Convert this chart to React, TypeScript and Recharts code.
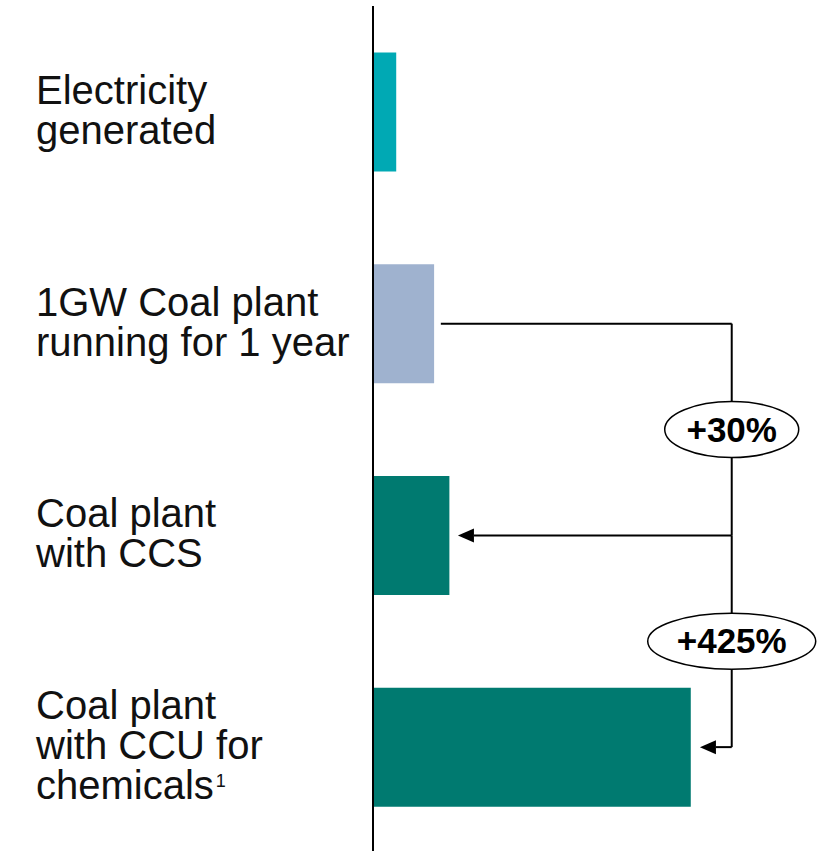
import React from "react";
import { BarChart, Bar, XAxis, YAxis, Cell, ReferenceLine } from "recharts";

const categories = ["electricity", "coal", "ccs", "ccu"];
const labelLines = [
  ["Electricity", "generated"],
  ["1GW Coal plant", "running for 1 year"],
  ["Coal plant", "with CCS"],
  ["Coal plant", "with CCU for", "chemicals"],
];
const labelSuperscripts = ["", "", "", "1"];
const values = [0.38, 1.0, 1.25, 5.2];
const barColors = ["#00A9B4", "#9FB2CF", "#007A70", "#007A70"];
const changeLabels = ["+30%", "+425%"];

const data = categories.map((c, i) => ({ name: c, value: values[i] }));

const FONT = "'Liberation Sans', Arial, sans-serif";

const CategoryTick = (props: any) => {
  const { y, payload } = props;
  const idx = categories.indexOf(payload.value);
  const lines = labelLines[idx] || [];
  const lh = 40;
  const first = y - ((lines.length - 1) * lh) / 2 + 12;
  return (
    <g>
      <text x={36} y={first} textAnchor="start" fontFamily={FONT} fontSize={40} fill="#111">
        {lines.map((l, i) => (
          <tspan key={i} x={36} y={first + i * lh}>
            {l}
            {i === lines.length - 1 && labelSuperscripts[idx] ? (
              <tspan fontSize={18} dx={2} dy={-12}>{labelSuperscripts[idx]}</tspan>
            ) : null}
          </tspan>
        ))}
      </text>
    </g>
  );
};

const plainLine = (p: any) => (
  <line x1={p.x1} y1={p.y1} x2={p.x2} y2={p.y2} stroke="#000" strokeWidth={2} />
);

const arrowLine = (p: any) => {
  const len = 16;
  const hw = 7;
  const dir = p.x2 < p.x1 ? -1 : 1;
  const bx = p.x2 - dir * len;
  return (
    <g>
      <line x1={p.x1} y1={p.y1} x2={bx} y2={p.y2} stroke="#000" strokeWidth={2} />
      <polygon points={`${p.x2},${p.y2} ${bx},${p.y2 - hw} ${bx},${p.y2 + hw}`} fill="#000" />
    </g>
  );
};

const ellipseLine = (label: string, rx: number) => (p: any) => {
  const cx = (p.x1 + p.x2) / 2;
  const cy = (p.y1 + p.y2) / 2;
  return (
    <g>
      <line x1={p.x1} y1={p.y1} x2={p.x2} y2={p.y2} stroke="#000" strokeWidth={2} />
      <ellipse cx={cx} cy={cy} rx={rx} ry={28} fill="#fff" stroke="#000" strokeWidth={1.5} />
      <text x={cx} y={cy + 12} textAnchor="middle" fontFamily={FONT} fontWeight="bold" fontSize={35} fill="#000">
        {label}
      </text>
    </g>
  );
};

const xJoin = 5.87;

export default function App() {
  return (
    <div style={{ position: "absolute", left: 0, top: 0, width: 821, height: 851, background: "#fff" }}>
      <BarChart
        width={821}
        height={851}
        data={data}
        layout="vertical"
        margin={{ top: 6, right: 8, bottom: -2, left: 0 }}
        barCategoryGap="22%"
      >
        <XAxis type="number" domain={[0, 7.2]} hide />
        <YAxis
          type="category"
          dataKey="name"
          width={373}
          axisLine={{ stroke: "#000", strokeWidth: 2 }}
          tickLine={false}
          tick={<CategoryTick />}
          interval={0}
        />
        <Bar dataKey="value" isAnimationActive={false}>
          {data.map((d, i) => (
            <Cell key={d.name} fill={barColors[i]} />
          ))}
        </Bar>
        <ReferenceLine
          segment={[{ x: 1.11, y: categories[1] }, { x: xJoin, y: categories[1] }]}
          shape={plainLine}
        />
        <ReferenceLine
          segment={[{ x: xJoin, y: categories[1] }, { x: xJoin, y: categories[2] }]}
          shape={ellipseLine(changeLabels[0], 67)}
        />
        <ReferenceLine
          segment={[{ x: xJoin, y: categories[2] }, { x: 1.39, y: categories[2] }]}
          shape={arrowLine}
        />
        <ReferenceLine
          segment={[{ x: xJoin, y: categories[2] }, { x: xJoin, y: categories[3] }]}
          shape={ellipseLine(changeLabels[1], 84)}
        />
        <ReferenceLine
          segment={[{ x: xJoin, y: categories[3] }, { x: 5.35, y: categories[3] }]}
          shape={arrowLine}
        />
      </BarChart>
    </div>
  );
}
